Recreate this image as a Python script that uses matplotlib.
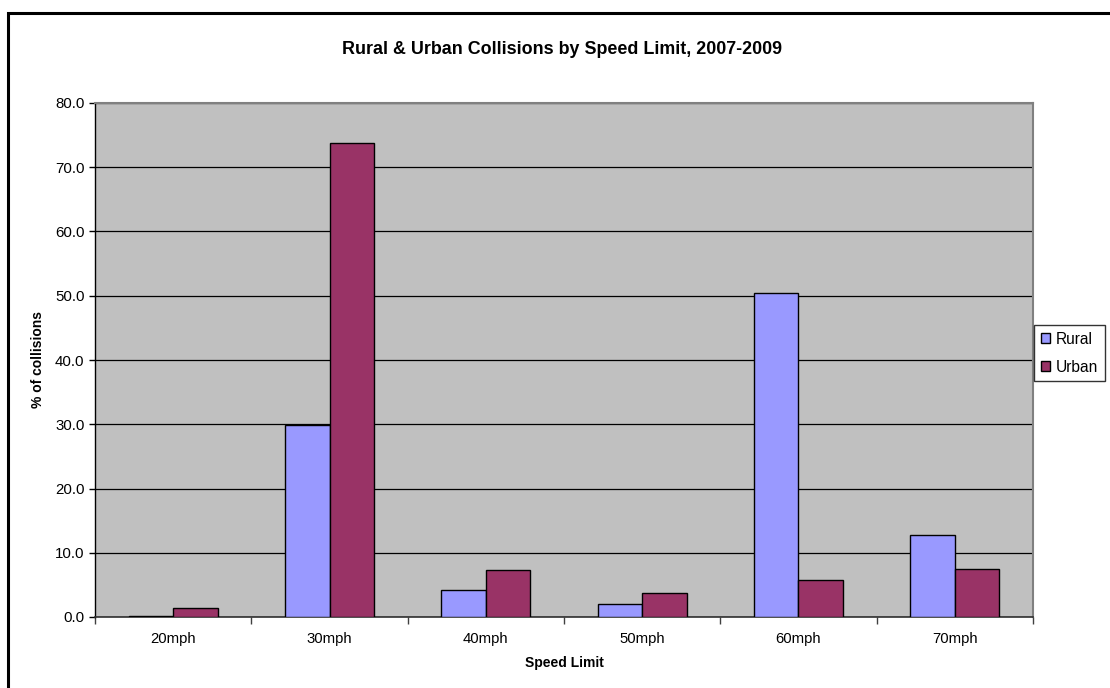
import matplotlib
matplotlib.use("Agg")
import matplotlib.pyplot as plt
import matplotlib.patches as patches
import numpy as np

plt.rcParams['font.family'] = ['Liberation Sans', 'DejaVu Sans']

speed_limits = ['20mph', '30mph', '40mph', '50mph', '60mph', '70mph']
rural = [0.1, 29.9, 4.2, 2.1, 50.5, 12.8]
urban = [1.4, 73.8, 7.3, 3.8, 5.8, 7.4]

fig = plt.figure(figsize=(11.1, 6.88), dpi=100)
ax = fig.add_axes([95 / 1110, 71 / 688, 938 / 1110, 514 / 688])
ax.set_facecolor('#C0C0C0')

x = np.arange(len(speed_limits))
w = 0.285
ax.bar(x - w / 2, rural, w, color='#9999FF', edgecolor='black', linewidth=1.0, label='Rural', zorder=3)
ax.bar(x + w / 2, urban, w, color='#993366', edgecolor='black', linewidth=1.0, label='Urban', zorder=3)

ax.set_xlim(-0.5, len(speed_limits) - 0.5)
ax.set_ylim(0, 80)

# y axis
ax.set_yticks(np.arange(0, 81, 10))
ax.set_yticklabels(['%.1f' % v for v in np.arange(0, 81, 10)], fontsize=10.8)
ax.tick_params(axis='y', direction='out', length=4, width=1, pad=3.5, color='black')
ax.yaxis.grid(True, color='black', linewidth=0.9, zorder=1)
ax.set_axisbelow(True)

# x axis: labels at category centres, tick marks at boundaries
ax.set_xticks(x)
ax.set_xticklabels(speed_limits, fontsize=10.7)
ax.tick_params(axis='x', which='major', length=0, pad=11)
ax.set_xticks(np.arange(-0.5, len(speed_limits)), minor=True)
ax.tick_params(axis='x', which='minor', direction='out', length=5, width=1, color='#404040')

ax.set_xlabel('Speed Limit', fontsize=10, fontweight='bold', labelpad=7)
ax.set_ylabel('% of collisions', fontsize=10, fontweight='bold', labelpad=7)

for side in ['top', 'right']:
    ax.spines[side].set_color('#808080')
    ax.spines[side].set_linewidth(1.5)
ax.spines['left'].set_color('black')
ax.spines['bottom'].set_color('#303030')
ax.spines['left'].set_linewidth(1.0)
ax.spines['bottom'].set_linewidth(1.2)

fig.text(562 / 1110, 1 - 49 / 688, 'Rural & Urban Collisions by Speed Limit, 2007-2009',
         ha='center', va='center', fontsize=12.9, fontweight='bold')

leg = ax.legend(loc='upper left', bbox_to_anchor=(1034 / 1110, 1 - 325 / 688),
                bbox_transform=fig.transFigure, fontsize=11.2, frameon=True, fancybox=False,
                edgecolor='black', handlelength=0.62, handleheight=0.62,
                handletextpad=0.36, borderpad=0.42, labelspacing=0.85, borderaxespad=0)
leg.get_frame().set_linewidth(1.0)

# outer chart border
fig.patches.append(patches.Rectangle((8 / 1110, -0.1), 1.2, 1.1 - 13.5 / 688, transform=fig.transFigure,
                                     fill=False, edgecolor='black', linewidth=2.2))

fig.savefig('out.png', dpi=100)
